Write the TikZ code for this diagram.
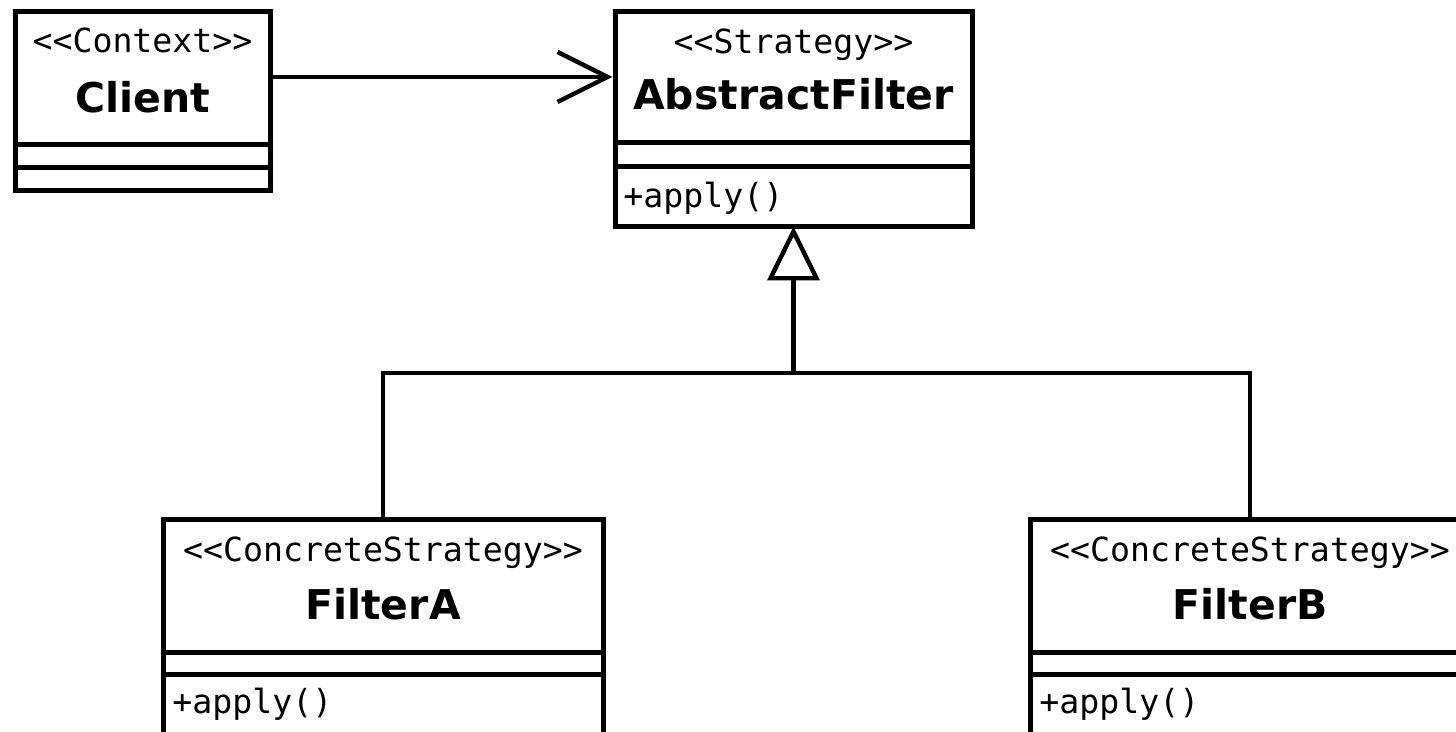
\documentclass[tikz,border=0pt]{standalone}
\usepackage{fontspec}
\newfontfamily\umlsans{DejaVu Sans}
\newfontfamily\umlmono{DejaVu Sans Mono}
\usetikzlibrary{arrows.meta,fit}
\begin{document}
\begin{tikzpicture}[x=0.5pt,y=-0.5pt,
  umlbox/.style={draw, line width=2.5pt, inner sep=0pt, fill=white},
  sepline/.style={line width=2.5pt},
  conn/.style={line width=2.2pt},
  stereo/.style={font=\umlmono\fontsize{16.6pt}{18pt}\selectfont, anchor=base, inner sep=0pt},
  cname/.style={font=\umlsans\bfseries\fontsize{20.5pt}{24pt}\selectfont, anchor=base, inner sep=0pt},
  member/.style={font=\umlmono\fontsize{16.6pt}{18pt}\selectfont, anchor=base west, inner sep=0pt}]
\useasboundingbox (0,0) rectangle (1456,732);
\fill[white] (0,0) rectangle (1456,732);
\clip (0,0) rectangle (1456,732);

% Client
\node[umlbox, fit={(15,12) (270,191)}] (client) {};
\draw[sepline] (client.west |- 0,145) -- (client.east |- 0,145);
\draw[sepline] (client.west |- 0,168) -- (client.east |- 0,168);
\node[stereo] (clientst) at (142.5,53) {<{}<Context>{}>};
\node[cname] (clientnm) at (142.5,113) {Client};

% AbstractFilter
\node[umlbox, fit={(615,12) (972,227)}] (abstract) {};
\draw[sepline] (abstract.west |- 0,143) -- (abstract.east |- 0,143);
\draw[sepline] (abstract.west |- 0,167) -- (abstract.east |- 0,167);
\node[stereo] (abstractst) at (793.5,54) {<{}<Strategy>{}>};
\node[cname] (abstractnm) at (793.5,110) {AbstractFilter};
\node[member] (abstractop) at (623,208) {+apply()};

% FilterA
\node[umlbox, fit={(163,519) (603,760)}] (filterA) {};
\draw[sepline] (filterA.west |- 0,652) -- (filterA.east |- 0,652);
\draw[sepline] (filterA.west |- 0,674) -- (filterA.east |- 0,674);
\node[stereo] (filterAst) at (383,561) {<{}<ConcreteStrategy>{}>};
\node[cname] (filterAnm) at (383,619) {FilterA};
\node[member] (filterAop) at (172,713) {+apply()};

% FilterB
\node[umlbox, fit={(1030,519) (1470,760)}] (filterB) {};
\draw[sepline] (filterB.west |- 0,652) -- (filterB.east |- 0,652);
\draw[sepline] (filterB.west |- 0,674) -- (filterB.east |- 0,674);
\node[stereo] (filterBst) at (1250,561) {<{}<ConcreteStrategy>{}>};
\node[cname] (filterBnm) at (1250,619) {FilterB};
\node[member] (filterBop) at (1039,713) {+apply()};

% Connectors
\coordinate (junction) at (abstract.south |- 0,373);
\draw[conn] (filterA.north) |- (junction);
\draw[conn] (filterB.north) |- (junction);
\draw[conn, shorten >=-1.5pt, -{Triangle[open, length=27pt, width=26pt, fill=white]}] (junction) -- (abstract.south);
\draw[conn, -{Straight Barb[length=25pt, width=25pt]}] (client.east |- 0,77) -- (abstract.west |- 0,77);
\end{tikzpicture}
\end{document}
